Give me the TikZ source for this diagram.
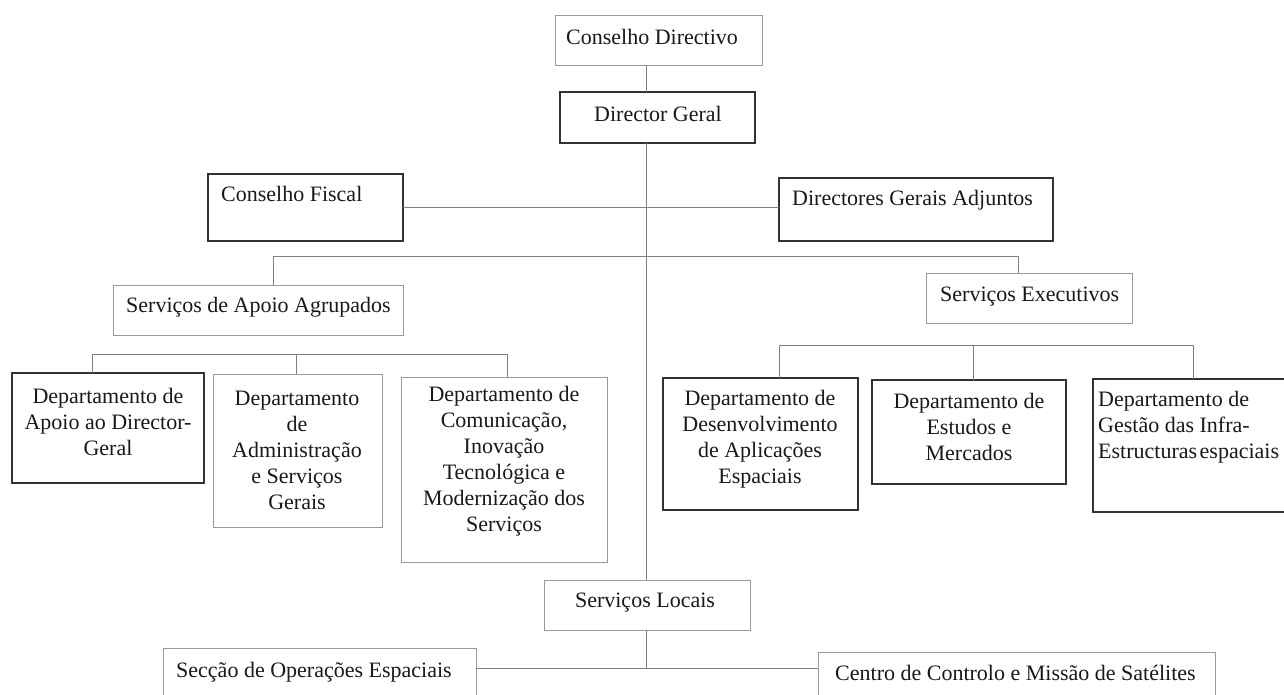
\documentclass[tikz,border=0pt]{standalone}
\usepackage{fontspec}
\setmainfont{Liberation Serif}
\begin{document}
\begin{tikzpicture}[x=1pt,y=-1pt,
  darkbox/.style={draw=black!80, line width=1.1pt, inner sep=0pt, outer sep=0pt, anchor=north west},
  lightbox/.style={draw=black!40, line width=0.8pt, inner sep=0pt, outer sep=0pt, anchor=north west},
  conn/.style={draw=black!50, line width=0.7pt},
  txt/.style={inner sep=0pt, text=black!90, font=\fontsize{22}{26}\selectfont},
  ctxt/.style={txt, align=center},
  ltxt/.style={txt, align=left, anchor=west}]
\useasboundingbox (0,0) rectangle (1284,695);
\clip (0,0) rectangle (1284,695);
\fill[white] (0,0) rectangle (1284,695);
% boxes
\node[lightbox, minimum width=207pt, minimum height=50pt] (cd) at (555,15) {};
\node[darkbox, minimum width=195pt, minimum height=51pt] (dg) at (560,92) {};
\node[darkbox, minimum width=195pt, minimum height=67pt] (cf) at (208,174) {};
\node[darkbox, minimum width=274pt, minimum height=63pt] (dga) at (779,178) {};
\node[lightbox, minimum width=290pt, minimum height=50pt] (saa) at (113,285) {};
\node[lightbox, minimum width=206pt, minimum height=50pt] (se) at (926,273) {};
\node[darkbox, minimum width=192pt, minimum height=110pt] (d1) at (12,373) {};
\node[lightbox, minimum width=169pt, minimum height=153pt] (d2) at (213,374) {};
\node[lightbox, minimum width=206pt, minimum height=185pt] (d3) at (401,377) {};
\node[darkbox, minimum width=195pt, minimum height=132pt] (d4) at (663,378) {};
\node[darkbox, minimum width=194pt, minimum height=104pt] (d5) at (872,380) {};
\node[darkbox, minimum width=200pt, minimum height=133pt] (d6) at (1093,379) {};
\node[lightbox, minimum width=206pt, minimum height=50pt] (sl) at (544,580) {};
\node[lightbox, minimum width=313pt, minimum height=70pt] (sec) at (163,648) {};
\node[lightbox, minimum width=397pt, minimum height=70pt] (cen) at (818,652) {};
% texts
\node[ctxt] (tcd) at (652,37) {Conselho Directivo};
\node[ctxt] (tdg) at (658,114) {Director Geral};
\node[ltxt] (tcf) at (221,194) {Conselho Fiscal};
\node[ltxt] (tdga) at (792,200) {Directores Gerais Adjuntos};
\node[ltxt] (tsaa) at (126,307) {Serviços de Apoio Agrupados};
\node[ltxt] (tse) at (940,297) {Serviços Executivos};
\node[ctxt] (t1) at (108,422) {Departamento de\\Apoio ao Director-\\Geral};
\node[ctxt] (t2) at (297,450) {Departamento\\de\\Administração\\e Serviços\\Gerais};
\node[ctxt] (t3) at (504,461) {Departamento de\\Comunicação,\\Inovação\\Tecnológica e\\Modernização dos\\Serviços};
\node[ctxt] (t4) at (760,439) {Departamento de\\Desenvolvimento\\de Aplicações\\Espaciais};
\node[ctxt] (t5) at (969,427) {Departamento de\\Estudos e\\Mercados};
\node[ltxt] (t6) at (1098,427) {Departamento de\\Gestão das Infra-\\Estructuras\hspace{-3pt} espaciais};
\node[ctxt] (tsl) at (645,603) {Serviços Locais};
\node[ltxt] (tsec) at (176,672) {Secção de Operações Espaciais};
\node[ltxt] (tcen) at (835,673) {Centro de Controlo e Missão de Satélites};
% junction coordinates
\coordinate (m) at (646,0);
\coordinate (ja) at (273,256);
\coordinate (jc) at (1018,256);
\coordinate (l1) at (92,354);
\coordinate (l2) at (296,354);
\coordinate (l3) at (507,354);
\coordinate (r1) at (779,345);
\coordinate (r2) at (973,345);
\coordinate (r3) at (1193,345);
\coordinate (jb) at (646,668);
% connectors
\draw[conn] (cd.south -| m) -- (dg.north -| m);
\draw[conn] (dg.south -| m) -- (sl.north -| m);
\draw[conn] (sl.south -| m) -- (jb);
\draw[conn] (sec.east |- jb) -- (cen.west |- jb);
\draw[conn] (cf.east) -- (cf.east -| dga.west);
\draw[conn] (ja |- saa.north) -- (ja) -- (jc) -- (jc |- se.north);
\draw[conn] (l1 |- d1.north) -- (l1) -- (l3) -- (l3 |- d3.north);
\draw[conn] (l2) -- (l2 |- d2.north);
\draw[conn] (r1 |- d4.north) -- (r1) -- (r3) -- (r3 |- d6.north);
\draw[conn] (r2) -- (r2 |- d5.north);
\end{tikzpicture}
\end{document}
